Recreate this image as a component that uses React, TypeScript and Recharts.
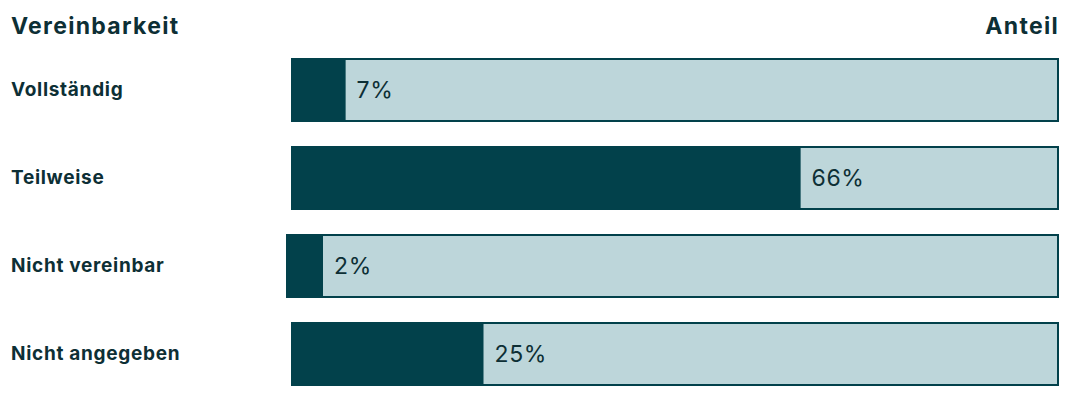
import React from "react";
import { BarChart, Bar, XAxis, YAxis, LabelList } from "recharts";

const categories = ["Vollständig", "Teilweise", "Nicht vereinbar", "Nicht angegeben"];
const shares = [7, 66.4, 2, 25];

const data = categories.map((name, i) => ({ name, anteil: shares[i] }));

const DARK = "#02414b";
const LIGHT = "#bdd6da";
const TEXT = "#0d2f35";
const FONT = "Inter, 'Open Sans', sans-serif";

const CategoryTick = (props: any) => {
  const { y, payload } = props;
  return (
    <text x={3} y={y} dy={6} textAnchor="start" fill={TEXT} fontSize={19} fontWeight={700} fontFamily={FONT} letterSpacing={0.7}>
      {payload.value}
    </text>
  );
};

// small values get a minimum block so the label still reads well
const ShareShape = (props: any) => {
  const { x, y, width, height } = props;
  const small = width < 30;
  const left = small ? x - 6 : x - 1;
  const w = small ? 37 : width + 1;
  return <rect x={left} y={y - 1} width={w} height={height + 2} fill={DARK} />;
};

const ShareLabel = (props: any) => {
  const { x, y, width, height, value } = props;
  const end = width < 30 ? x + 31 : x + width;
  return (
    <text x={end + 11} y={y + height / 2} dy={8} fill={TEXT} fontSize={23} fontFamily={FONT} letterSpacing={0.6}>
      {Math.round(value)}%
    </text>
  );
};

const headStyle: React.CSSProperties = {
  position: "absolute",
  top: 4,
  fontFamily: FONT,
  fontWeight: 700,
  fontSize: 23,
  letterSpacing: 1.3,
  color: TEXT,
};

export default function App() {
  return (
    <div style={{ position: "relative", width: 1064, height: 387, overflow: "hidden" }}>
      <div style={{ ...headStyle, left: 3 }}>Vereinbarkeit</div>
      <div style={{ ...headStyle, right: 13 }}>Anteil</div>
      <BarChart
        width={1064}
        height={395}
        data={data}
        layout="vertical"
        margin={{ top: 38, right: 14, left: 0, bottom: 5 }}
      >
        <XAxis type="number" domain={[0, 100]} hide />
        <YAxis type="category" dataKey="name" width={284} axisLine={false} tickLine={false} tick={<CategoryTick />} />
        <Bar
          dataKey="anteil"
          barSize={62}
          isAnimationActive={false}
          background={{ fill: LIGHT, stroke: DARK, strokeWidth: 2 }}
          shape={<ShareShape />}
        >
          <LabelList dataKey="anteil" content={<ShareLabel />} />
        </Bar>
      </BarChart>
    </div>
  );
}
